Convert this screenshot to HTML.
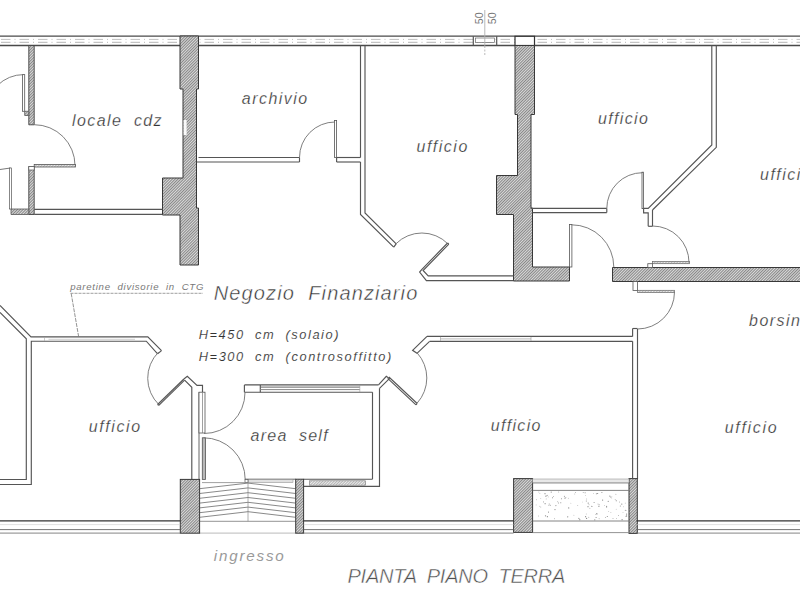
<!DOCTYPE html>
<html><head><meta charset="utf-8">
<style>
html,body{margin:0;padding:0;background:#fff;}
body{width:800px;height:600px;overflow:hidden;}
svg{display:block;}
text{font-family:"Liberation Sans",sans-serif;font-style:italic;}
</style></head>
<body>
<svg width="800" height="600" viewBox="0 0 800 600">
<defs>
<pattern id="h" patternUnits="userSpaceOnUse" width="2" height="2" patternTransform="rotate(45)">
<rect width="2" height="2" fill="#dadada"/>
<rect width="0.9" height="2" fill="#7e7e7e"/>
</pattern>
<pattern id="hl" patternUnits="userSpaceOnUse" width="2" height="2" patternTransform="rotate(45)">
<rect width="2" height="2" fill="#ececec"/>
<rect width="0.8" height="2" fill="#a8a8a8"/>
</pattern>
<pattern id="gr" patternUnits="userSpaceOnUse" width="24" height="24"><rect width="24" height="24" fill="#f8f8f8"/><circle cx="5.7" cy="13.1" r="0.44" fill="#999"/><circle cx="14.5" cy="15.0" r="0.37" fill="#999"/><circle cx="0.3" cy="20.1" r="0.41" fill="#999"/><circle cx="5.6" cy="23.9" r="0.47" fill="#999"/><circle cx="20.1" cy="11.4" r="0.51" fill="#999"/><circle cx="3.6" cy="15.2" r="0.57" fill="#999"/><circle cx="12.6" cy="17.8" r="0.52" fill="#999"/><circle cx="1.5" cy="18.2" r="0.50" fill="#999"/><circle cx="7.2" cy="0.7" r="0.57" fill="#999"/><circle cx="11.3" cy="17.3" r="0.57" fill="#999"/><circle cx="17.1" cy="22.1" r="0.45" fill="#999"/><circle cx="19.2" cy="10.7" r="0.58" fill="#999"/><circle cx="21.1" cy="2.3" r="0.38" fill="#999"/><circle cx="5.2" cy="23.2" r="0.46" fill="#999"/><circle cx="15.0" cy="7.2" r="0.48" fill="#999"/><circle cx="9.3" cy="8.4" r="0.50" fill="#999"/><circle cx="14.0" cy="21.7" r="0.52" fill="#999"/><circle cx="22.3" cy="20.6" r="0.60" fill="#999"/><circle cx="16.1" cy="3.9" r="0.57" fill="#999"/><circle cx="23.2" cy="21.7" r="0.49" fill="#999"/><circle cx="17.1" cy="5.1" r="0.56" fill="#999"/><circle cx="13.8" cy="6.8" r="0.37" fill="#999"/><circle cx="20.5" cy="23.8" r="0.37" fill="#999"/><circle cx="19.2" cy="9.9" r="0.39" fill="#999"/><circle cx="7.1" cy="18.5" r="0.57" fill="#999"/><circle cx="1.1" cy="14.7" r="0.36" fill="#999"/><circle cx="17.2" cy="7.9" r="0.57" fill="#999"/><circle cx="23.5" cy="12.1" r="0.60" fill="#999"/><circle cx="7.4" cy="1.8" r="0.50" fill="#999"/><circle cx="0.8" cy="4.7" r="0.45" fill="#999"/></pattern>
</defs>
<rect width="800" height="600" fill="#fff"/>
<line x1="0" y1="39.4" x2="800" y2="39.4" stroke="#c0c0c0" stroke-width="1.0" stroke-dasharray="9.5,4,1,4" stroke-dashoffset="-1"/>
<line x1="0" y1="42.3" x2="800" y2="42.3" stroke="#b4b4b4" stroke-width="1.0" stroke-dasharray="9.5,4,1,4" stroke-dashoffset="-1"/>
<line x1="0" y1="36.2" x2="800" y2="36.2" stroke="#4a4a4a" stroke-width="1.3" />
<line x1="0" y1="45.5" x2="800" y2="45.5" stroke="#4a4a4a" stroke-width="1.3" />
<line x1="473.3" y1="36.3" x2="473.3" y2="45.5" stroke="#555" stroke-width="1.2" />
<line x1="496.7" y1="36.3" x2="496.7" y2="45.5" stroke="#555" stroke-width="1.2" />
<rect x="475.5" y="38" width="19.0" height="4.5" fill="#fff" stroke="#666" stroke-width="0.7"/>
<rect x="515" y="36.3" width="19.5" height="9.200000000000003" fill="#fff" stroke="#333" stroke-width="1.2"/>
<line x1="484.8" y1="10" x2="484.8" y2="46" stroke="#b0b0b0" stroke-width="0.9" />
<line x1="484.8" y1="46" x2="484.8" y2="55" stroke="#aaa" stroke-width="0.8" stroke-dasharray="2,1.5"/>
<polygon points="180,36 198.5,36 198.5,89 196.5,89 196.5,208 198.5,208 198.5,265 180,265 180,215 162.5,215 162.5,178 183,178 183,89 180,89" stroke="#383838" stroke-width="1.0" fill="url(#h)" stroke-linejoin="miter" />
<polygon points="515,45.5 534.5,45.5 534.5,114.5 531,114.5 531,208 532.5,208 532.5,267 569.5,267 569.5,281 513.5,281 513.5,214.5 496.5,214.5 496.5,175.5 517.5,175.5 517.5,114.5 515,114.5" stroke="#383838" stroke-width="1.0" fill="url(#h)" stroke-linejoin="miter" />
<polygon points="612.5,267.5 801,267.5 801,281.5 612.5,281.5" stroke="#383838" stroke-width="1.0" fill="url(#h)" stroke-linejoin="miter" />
<rect x="183.6" y="120" width="3.0" height="15" fill="#fafafa" stroke="none" stroke-width="0"/>
<polygon points="28.8,45.5 34.2,45.5 34.2,124.8 28.8,124.8" stroke="#444" stroke-width="0.9" fill="url(#h)" stroke-linejoin="miter" />
<polygon points="24.7,111.3 28.8,111.3 28.8,115.5 24.7,115.5" stroke="#555" stroke-width="0.8" fill="url(#h)" stroke-linejoin="miter" />
<rect x="22.4" y="74.6" width="2.3000000000000007" height="36.7" fill="#fff" stroke="#555" stroke-width="0.8"/>
<path d="M-13.20,111.30 A36.7,36.7 0 0 1 23.50,74.60" stroke="#707070" stroke-width="0.9" fill="none"/>
<path d="M34.20,124.70 A40.8,40.8 0 0 1 75.00,165.50" stroke="#707070" stroke-width="0.9" fill="none"/>
<rect x="34.2" y="164.5" width="41.3" height="2.5" fill="url(#hl)" stroke="#555" stroke-width="0.8"/>
<polygon points="28.8,166.5 34.2,166.5 34.2,214.5 28.8,214.5" stroke="#444" stroke-width="0.9" fill="url(#h)" stroke-linejoin="miter" />
<rect x="28.8" y="166.5" width="5.400000000000002" height="3.5" fill="#fff" stroke="#555" stroke-width="0.7"/>
<line x1="0" y1="169.5" x2="10.5" y2="168" stroke="#555" stroke-width="0.8" />
<rect x="9.5" y="168" width="2.0" height="41" fill="#fff" stroke="#555" stroke-width="0.7"/>
<polygon points="11,209 28.8,209 28.8,214.5 11,214.5" stroke="#555" stroke-width="0.8" fill="url(#h)" stroke-linejoin="miter" />
<line x1="34.2" y1="209.4" x2="162.5" y2="209.4" stroke="#555" stroke-width="1.15" />
<line x1="34.2" y1="214.4" x2="162.5" y2="214.4" stroke="#555" stroke-width="1.15" />
<line x1="198.5" y1="157.5" x2="299.5" y2="157.5" stroke="#555" stroke-width="1.15" />
<line x1="196.5" y1="162" x2="299.5" y2="162" stroke="#555" stroke-width="1.15" />
<line x1="299.5" y1="157.5" x2="299.5" y2="162" stroke="#555" stroke-width="1.15" />
<path d="M299.50,157.50 A35.5,35.5 0 0 1 335.00,122.00" stroke="#707070" stroke-width="0.9" fill="none"/>
<rect x="334.5" y="120.5" width="2.1000000000000227" height="37.0" fill="#fff" stroke="#555" stroke-width="0.8"/>
<line x1="336.6" y1="157.5" x2="360.5" y2="157.5" stroke="#555" stroke-width="1.15" />
<line x1="336.6" y1="157.5" x2="336.6" y2="162" stroke="#555" stroke-width="1.15" />
<line x1="336.6" y1="162" x2="360.5" y2="162" stroke="#555" stroke-width="1.15" />
<line x1="360.5" y1="45.5" x2="360.5" y2="157.5" stroke="#555" stroke-width="1.15" />
<polyline points="360.5,162 360.5,214.5 393.7,247.2" stroke="#555" stroke-width="1.15" fill="none" stroke-linejoin="miter" />
<polyline points="365,45.5 365,213 396.2,243.8" stroke="#555" stroke-width="1.15" fill="none" stroke-linejoin="miter" />
<line x1="393.7" y1="247.2" x2="396.2" y2="243.8" stroke="#555" stroke-width="1.15" />
<path d="M396.02,243.72 A36.6,36.6 0 0 1 447.78,243.72" stroke="#707070" stroke-width="0.9" fill="none"/>
<polyline points="447.6,243.0 421.9,269.3 419.6,272.1 426.4,280.6 513.5,280.6" stroke="#555" stroke-width="1.15" fill="none" stroke-linejoin="miter" />
<polyline points="448.8,244.2 423.1,270.5 428.2,275.8 513.5,275.8" stroke="#555" stroke-width="1.15" fill="none" stroke-linejoin="miter" />
<line x1="447.6" y1="243.0" x2="448.8" y2="244.2" stroke="#555" stroke-width="1.15" />
<line x1="531" y1="208.4" x2="606.8" y2="208.4" stroke="#555" stroke-width="1.15" />
<line x1="532.5" y1="212.6" x2="606.8" y2="212.6" stroke="#555" stroke-width="1.15" />
<line x1="606.8" y1="208.4" x2="606.8" y2="212.6" stroke="#555" stroke-width="1.15" />
<path d="M606.80,208.40 A35.7,35.7 0 0 1 642.50,172.70" stroke="#707070" stroke-width="0.9" fill="none"/>
<rect x="642" y="172.2" width="1.6000000000000227" height="36.400000000000006" fill="#fff" stroke="#555" stroke-width="0.8"/>
<polyline points="711.8,45.5 711.8,145 648.2,208.3 643.6,208.3" stroke="#555" stroke-width="1.15" fill="none" stroke-linejoin="miter" />
<polyline points="716.3,45.5 716.3,147.3 652.5,210" stroke="#555" stroke-width="1.15" fill="none" stroke-linejoin="miter" />
<polyline points="643.6,208.6 643.6,212.8 648.2,212.8 648.2,226.3" stroke="#555" stroke-width="1.15" fill="none" stroke-linejoin="miter" />
<polyline points="652.5,210 652.5,226.3" stroke="#555" stroke-width="1.15" fill="none" stroke-linejoin="miter" />
<line x1="648.2" y1="226.3" x2="652.5" y2="226.3" stroke="#555" stroke-width="1.15" />
<path d="M652.50,226.00 A36.5,36.5 0 0 1 689.00,262.50" stroke="#707070" stroke-width="0.9" fill="none"/>
<rect x="652.5" y="261.4" width="36.89999999999998" height="2.3000000000000114" fill="url(#hl)" stroke="#666" stroke-width="0.7"/>
<rect x="647.8" y="263.7" width="4.7000000000000455" height="3.8000000000000114" fill="#fff" stroke="#555" stroke-width="0.8"/>
<rect x="569.4" y="224.5" width="2.5" height="42.5" fill="#fff" stroke="#555" stroke-width="0.8"/>
<path d="M571.60,224.80 A42.2,42.2 0 0 1 613.80,267.00" stroke="#707070" stroke-width="0.9" fill="none"/>
<rect x="633" y="281.5" width="4.5" height="9.0" fill="#fff" stroke="#555" stroke-width="0.8"/>
<rect x="637.5" y="290.3" width="37.0" height="2.1999999999999886" fill="url(#hl)" stroke="#666" stroke-width="0.7"/>
<path d="M674.50,292.00 A37,37 0 0 1 637.50,329.00" stroke="#707070" stroke-width="0.9" fill="none"/>
<polyline points="637.5,329 637.5,479" stroke="#555" stroke-width="1.15" fill="none" stroke-linejoin="miter" />
<polyline points="632.6,341.3 632.6,479" stroke="#555" stroke-width="1.15" fill="none" stroke-linejoin="miter" />
<line x1="632.6" y1="328.5" x2="637.5" y2="328.5" stroke="#555" stroke-width="1.15" />
<line x1="632.6" y1="328.5" x2="632.6" y2="336.4" stroke="#555" stroke-width="1.15" />
<line x1="427" y1="336.4" x2="632.6" y2="336.4" stroke="#555" stroke-width="1.15" />
<line x1="429.6" y1="341.3" x2="632.6" y2="341.3" stroke="#555" stroke-width="1.15" />
<line x1="440.5" y1="338.9" x2="531" y2="338.9" stroke="#aaa" stroke-width="0.8" />
<line x1="440.5" y1="336.8" x2="440.5" y2="341" stroke="#999" stroke-width="0.6" />
<line x1="531" y1="336.8" x2="531" y2="341" stroke="#999" stroke-width="0.6" />
<polyline points="427,336.4 412.6,350.3 417,353.3 429.6,341.3" stroke="#555" stroke-width="1.15" fill="none" stroke-linejoin="miter" />
<path d="M417.17,352.91 A37.5,37.5 0 0 1 417.17,403.09" stroke="#707070" stroke-width="0.9" fill="none"/>
<polyline points="388.9,377.0 417.2,403.5" stroke="#555" stroke-width="1.1" fill="none" stroke-linejoin="miter" />
<polyline points="387.7,378.3 416.0,404.8" stroke="#555" stroke-width="1.1" fill="none" stroke-linejoin="miter" />
<line x1="417.2" y1="403.5" x2="416.0" y2="404.8" stroke="#555" stroke-width="1.1" />
<polyline points="0,305.5 31,336.8 147.8,336.8 161.5,350.6" stroke="#555" stroke-width="1.15" fill="none" stroke-linejoin="miter" />
<polyline points="0,312.5 26.3,338.8 26.3,479.5 0,479.5" stroke="#555" stroke-width="1.15" fill="none" stroke-linejoin="miter" />
<polyline points="157.6,353.8 146.3,341.2 31.3,341.2 31.3,484.5 0,484.5" stroke="#555" stroke-width="1.15" fill="none" stroke-linejoin="miter" />
<line x1="161.5" y1="350.6" x2="157.6" y2="353.8" stroke="#555" stroke-width="1.15" />
<line x1="48.5" y1="339.3" x2="135" y2="339.3" stroke="#bbb" stroke-width="0.7" />
<line x1="44.5" y1="337.5" x2="44.5" y2="341" stroke="#aaa" stroke-width="0.6" />
<path d="M158.94,404.67 A36.8,36.8 0 0 1 158.48,352.18" stroke="#707070" stroke-width="0.9" fill="none"/>
<polyline points="157.6,404.5 183.9,379" stroke="#555" stroke-width="1.15" fill="none" stroke-linejoin="miter" />
<polyline points="158.8,405.4 184.6,380.1" stroke="#555" stroke-width="1.15" fill="none" stroke-linejoin="miter" />
<line x1="157.6" y1="404.5" x2="158.8" y2="405.4" stroke="#555" stroke-width="1.15" />
<polyline points="183.9,379 187.3,376.3 197,385.4 202.5,385.4 202.5,392.2" stroke="#555" stroke-width="1.15" fill="none" stroke-linejoin="miter" />
<polyline points="184.6,380.1 191.8,387.3 191.8,479.4" stroke="#555" stroke-width="1.15" fill="none" stroke-linejoin="miter" />
<line x1="199" y1="392.2" x2="199" y2="479.4" stroke="#555" stroke-width="0.9" />
<rect x="199" y="392.2" width="6" height="40.80000000000001" fill="#fff" stroke="#555" stroke-width="0.8"/>
<line x1="202.5" y1="392.2" x2="202.5" y2="433" stroke="#777" stroke-width="0.7" />
<rect x="202.3" y="437.8" width="3.1999999999999886" height="41.599999999999966" fill="#b8b8b8" stroke="#555" stroke-width="0.8"/>
<path d="M245.00,392.50 A41,41 0 0 1 204.00,433.50" stroke="#707070" stroke-width="0.9" fill="none"/>
<path d="M203.50,437.80 A41.7,41.7 0 0 1 245.20,479.50" stroke="#707070" stroke-width="0.9" fill="none"/>
<line x1="244.4" y1="384.9" x2="378.5" y2="384.9" stroke="#555" stroke-width="1.15" />
<line x1="244.4" y1="392.2" x2="372.5" y2="392.2" stroke="#555" stroke-width="1.15" />
<line x1="244.4" y1="384.9" x2="244.4" y2="392.2" stroke="#555" stroke-width="1.15" />
<line x1="260.3" y1="384.9" x2="260.3" y2="392.2" stroke="#555" stroke-width="1.15" />
<line x1="260.3" y1="387.1" x2="359.8" y2="387.1" stroke="#666" stroke-width="1.0" />
<line x1="260.3" y1="389.6" x2="359.8" y2="389.6" stroke="#888" stroke-width="1.0" />
<line x1="359.8" y1="385" x2="359.8" y2="392.2" stroke="#999" stroke-width="0.6" />
<line x1="372.5" y1="392.2" x2="372.5" y2="479.2" stroke="#555" stroke-width="1.15" />
<polyline points="379.5,388.3 379.5,486.3 303.7,486.3" stroke="#555" stroke-width="1.15" fill="none" stroke-linejoin="miter" />
<line x1="303.7" y1="479.2" x2="372.5" y2="479.2" stroke="#555" stroke-width="1.15" />
<rect x="309.5" y="480.8" width="56.10000000000002" height="4.399999999999977" fill="url(#hl)" stroke="#777" stroke-width="0.6"/>
<polyline points="378.5,384.9 386.3,376.3 389.4,378.6 379.5,388.3" stroke="#555" stroke-width="1.15" fill="none" stroke-linejoin="miter" />
<line x1="245" y1="479.2" x2="295.7" y2="479.2" stroke="#555" stroke-width="0.9" />
<rect x="248" y="479.6" width="45" height="3.0" fill="#e0e0e0" stroke="#888" stroke-width="0.5"/>
<rect x="245" y="479.4" width="3" height="3.2000000000000455" fill="#fff" stroke="#555" stroke-width="0.7"/>
<line x1="202" y1="482.6" x2="245" y2="482.6" stroke="#888" stroke-width="0.8" />
<line x1="248" y1="482.6" x2="248" y2="521.3" stroke="#999" stroke-width="0.8" />
<line x1="199.6" y1="488.7" x2="248" y2="483.09999999999997" stroke="#7c7c7c" stroke-width="0.9" />
<line x1="248" y1="483.09999999999997" x2="295.7" y2="488.7" stroke="#7c7c7c" stroke-width="0.9" />
<line x1="199.6" y1="493.5" x2="248" y2="487.9" stroke="#7c7c7c" stroke-width="0.9" />
<line x1="248" y1="487.9" x2="295.7" y2="493.5" stroke="#7c7c7c" stroke-width="0.9" />
<line x1="199.6" y1="498.3" x2="248" y2="492.7" stroke="#7c7c7c" stroke-width="0.9" />
<line x1="248" y1="492.7" x2="295.7" y2="498.3" stroke="#7c7c7c" stroke-width="0.9" />
<line x1="199.6" y1="503.1" x2="248" y2="497.5" stroke="#7c7c7c" stroke-width="0.9" />
<line x1="248" y1="497.5" x2="295.7" y2="503.1" stroke="#7c7c7c" stroke-width="0.9" />
<line x1="199.6" y1="507.9" x2="248" y2="502.29999999999995" stroke="#7c7c7c" stroke-width="0.9" />
<line x1="248" y1="502.29999999999995" x2="295.7" y2="507.9" stroke="#7c7c7c" stroke-width="0.9" />
<line x1="199.6" y1="512.7" x2="248" y2="507.1" stroke="#7c7c7c" stroke-width="0.9" />
<line x1="248" y1="507.1" x2="295.7" y2="512.7" stroke="#7c7c7c" stroke-width="0.9" />
<line x1="199.6" y1="517.3" x2="248" y2="511.69999999999993" stroke="#7c7c7c" stroke-width="0.9" />
<line x1="248" y1="511.69999999999993" x2="295.7" y2="517.3" stroke="#7c7c7c" stroke-width="0.9" />
<line x1="199.6" y1="521.3" x2="295.7" y2="521.3" stroke="#888" stroke-width="0.9" />
<line x1="199.6" y1="533.1" x2="295.7" y2="533.1" stroke="#aaa" stroke-width="0.8" />
<rect x="180.3" y="479.4" width="19.299999999999983" height="53.80000000000007" fill="url(#h)" stroke="#383838" stroke-width="1.0"/>
<rect x="295.7" y="479.2" width="7.900000000000034" height="54.00000000000006" fill="url(#h)" stroke="#383838" stroke-width="1.0"/>
<rect x="513.6" y="478.6" width="19.0" height="53.799999999999955" fill="url(#h)" stroke="#383838" stroke-width="1.0"/>
<rect x="629" y="478.6" width="8.299999999999955" height="54.799999999999955" fill="url(#h)" stroke="#383838" stroke-width="1.0"/>
<line x1="0" y1="520.9" x2="180.3" y2="520.9" stroke="#333" stroke-width="1.4" />
<line x1="0" y1="524.6" x2="180.3" y2="524.6" stroke="#ccc" stroke-width="0.6" />
<line x1="0" y1="529.6" x2="180.3" y2="529.6" stroke="#666" stroke-width="0.9" />
<line x1="0" y1="533.1" x2="180.3" y2="533.1" stroke="#777" stroke-width="0.9" />
<line x1="303.6" y1="520.9" x2="513.6" y2="520.9" stroke="#333" stroke-width="1.4" />
<line x1="303.6" y1="524.6" x2="513.6" y2="524.6" stroke="#ccc" stroke-width="0.6" />
<line x1="303.6" y1="529.6" x2="513.6" y2="529.6" stroke="#666" stroke-width="0.9" />
<line x1="303.6" y1="533.1" x2="513.6" y2="533.1" stroke="#777" stroke-width="0.9" />
<line x1="636.6" y1="520.9" x2="800" y2="520.9" stroke="#333" stroke-width="1.4" />
<line x1="636.6" y1="524.6" x2="800" y2="524.6" stroke="#ccc" stroke-width="0.6" />
<line x1="636.6" y1="529.6" x2="800" y2="529.6" stroke="#666" stroke-width="0.9" />
<line x1="636.6" y1="533.1" x2="800" y2="533.1" stroke="#777" stroke-width="0.9" />
<line x1="532.6" y1="483" x2="629" y2="483" stroke="#777" stroke-width="0.8" />
<rect x="532.6" y="479" width="96.39999999999998" height="3.6000000000000227" fill="#e8e8e8" stroke="#888" stroke-width="0.5"/>
<line x1="532.6" y1="490.4" x2="629" y2="490.4" stroke="#777" stroke-width="0.9" />
<g fill="#8a8a8a"><circle cx="564.4" cy="496.2" r="0.55"/><circle cx="540.8" cy="507.0" r="0.46"/><circle cx="539.5" cy="506.2" r="0.36"/><circle cx="574.8" cy="494.0" r="0.38"/><circle cx="573.9" cy="515.2" r="0.39"/><circle cx="555.0" cy="509.6" r="0.63"/><circle cx="588.2" cy="503.1" r="0.64"/><circle cx="538.4" cy="516.0" r="0.44"/><circle cx="547.6" cy="495.3" r="0.44"/><circle cx="610.7" cy="497.1" r="0.52"/><circle cx="594.1" cy="502.4" r="0.51"/><circle cx="539.9" cy="493.7" r="0.41"/><circle cx="598.0" cy="504.0" r="0.44"/><circle cx="589.0" cy="504.7" r="0.44"/><circle cx="608.7" cy="511.6" r="0.42"/><circle cx="588.0" cy="506.7" r="0.61"/><circle cx="602.6" cy="500.1" r="0.64"/><circle cx="545.1" cy="503.7" r="0.58"/><circle cx="548.3" cy="505.7" r="0.36"/><circle cx="596.8" cy="513.4" r="0.52"/><circle cx="616.3" cy="500.8" r="0.56"/><circle cx="589.9" cy="508.2" r="0.49"/><circle cx="613.0" cy="518.5" r="0.49"/><circle cx="596.4" cy="493.7" r="0.56"/><circle cx="594.8" cy="519.8" r="0.60"/><circle cx="560.8" cy="502.8" r="0.55"/><circle cx="536.1" cy="504.9" r="0.40"/><circle cx="545.0" cy="493.7" r="0.58"/><circle cx="546.2" cy="498.9" r="0.47"/><circle cx="615.9" cy="494.3" r="0.48"/><circle cx="585.6" cy="516.7" r="0.60"/><circle cx="615.2" cy="499.8" r="0.47"/><circle cx="567.7" cy="516.8" r="0.64"/><circle cx="548.2" cy="496.9" r="0.42"/><circle cx="555.9" cy="505.6" r="0.53"/><circle cx="558.7" cy="492.1" r="0.48"/><circle cx="568.7" cy="507.9" r="0.64"/><circle cx="598.9" cy="506.4" r="0.54"/><circle cx="597.6" cy="493.5" r="0.62"/><circle cx="607.3" cy="516.5" r="0.59"/><circle cx="570.9" cy="503.2" r="0.38"/><circle cx="593.6" cy="493.7" r="0.37"/><circle cx="553.6" cy="496.5" r="0.45"/><circle cx="538.9" cy="492.0" r="0.40"/><circle cx="543.5" cy="502.2" r="0.36"/><circle cx="616.2" cy="509.2" r="0.39"/><circle cx="557.7" cy="501.7" r="0.46"/><circle cx="545.5" cy="515.8" r="0.65"/><circle cx="577.8" cy="505.5" r="0.38"/><circle cx="543.6" cy="501.6" r="0.43"/><circle cx="611.9" cy="496.5" r="0.36"/><circle cx="623.4" cy="506.8" r="0.39"/><circle cx="585.1" cy="492.8" r="0.51"/><circle cx="626.0" cy="516.2" r="0.56"/><circle cx="558.5" cy="502.3" r="0.40"/><circle cx="606.6" cy="506.9" r="0.58"/><circle cx="565.0" cy="498.2" r="0.59"/><circle cx="626.6" cy="515.9" r="0.59"/><circle cx="610.9" cy="512.7" r="0.42"/><circle cx="582.7" cy="502.0" r="0.36"/><circle cx="536.6" cy="499.8" r="0.43"/><circle cx="599.1" cy="518.8" r="0.48"/><circle cx="622.1" cy="519.7" r="0.64"/><circle cx="568.3" cy="498.2" r="0.42"/><circle cx="552.5" cy="497.7" r="0.54"/><circle cx="618.6" cy="515.5" r="0.49"/><circle cx="595.4" cy="514.4" r="0.38"/><circle cx="596.1" cy="517.5" r="0.58"/><circle cx="604.5" cy="505.4" r="0.40"/><circle cx="608.2" cy="501.3" r="0.59"/><circle cx="625.3" cy="503.1" r="0.47"/><circle cx="623.0" cy="512.3" r="0.40"/><circle cx="545.9" cy="496.2" r="0.62"/><circle cx="609.8" cy="496.1" r="0.60"/><circle cx="626.1" cy="510.4" r="0.46"/><circle cx="585.6" cy="495.7" r="0.35"/><circle cx="625.3" cy="510.2" r="0.51"/><circle cx="621.8" cy="504.1" r="0.61"/><circle cx="611.7" cy="497.9" r="0.43"/><circle cx="561.5" cy="498.7" r="0.53"/><circle cx="558.4" cy="503.7" r="0.39"/><circle cx="619.5" cy="501.9" r="0.49"/><circle cx="588.8" cy="517.3" r="0.48"/><circle cx="620.3" cy="506.0" r="0.51"/><circle cx="583.2" cy="492.5" r="0.48"/><circle cx="551.2" cy="492.1" r="0.59"/><circle cx="550.2" cy="505.3" r="0.57"/><circle cx="586.3" cy="501.1" r="0.51"/><circle cx="586.2" cy="514.0" r="0.38"/><circle cx="586.7" cy="499.0" r="0.43"/><circle cx="606.6" cy="506.2" r="0.52"/><circle cx="605.4" cy="517.5" r="0.48"/><circle cx="591.6" cy="506.2" r="0.50"/><circle cx="599.1" cy="504.7" r="0.51"/><circle cx="578.9" cy="518.4" r="0.56"/><circle cx="616.4" cy="518.4" r="0.43"/><circle cx="586.6" cy="518.4" r="0.60"/><circle cx="546.9" cy="495.4" r="0.48"/><circle cx="540.8" cy="498.7" r="0.37"/><circle cx="596.9" cy="514.0" r="0.62"/><circle cx="548.5" cy="512.1" r="0.55"/><circle cx="547.4" cy="516.7" r="0.64"/><circle cx="554.6" cy="518.7" r="0.47"/><circle cx="579.8" cy="519.7" r="0.60"/><circle cx="549.2" cy="504.1" r="0.50"/><circle cx="565.9" cy="497.5" r="0.45"/><circle cx="601.9" cy="492.5" r="0.52"/><circle cx="575.4" cy="492.5" r="0.45"/><circle cx="592.6" cy="506.3" r="0.37"/><circle cx="626.6" cy="514.1" r="0.64"/></g>
<line x1="532.6" y1="521" x2="629" y2="521" stroke="#777" stroke-width="0.9" />
<line x1="532.6" y1="532.6" x2="629" y2="532.6" stroke="#888" stroke-width="0.9" />
<polyline points="632.6,479 632.6,478.6" stroke="#555" stroke-width="1.15" fill="none" stroke-linejoin="miter" />
<text stroke="#fff" stroke-width="0.25" x="72.0" y="126" font-size="16" fill="#333" letter-spacing="1.4" xml:space="preserve" >locale  cdz</text>
<text stroke="#fff" stroke-width="0.25" x="241.8" y="103.6" font-size="16" fill="#333" letter-spacing="1.457" xml:space="preserve" >archivio</text>
<text stroke="#fff" stroke-width="0.25" x="416.5" y="152" font-size="16" fill="#333" letter-spacing="1.5" xml:space="preserve" >ufficio</text>
<text stroke="#fff" stroke-width="0.25" x="597.9" y="123.8" font-size="16" fill="#333" letter-spacing="1.367" xml:space="preserve" >ufficio</text>
<text stroke="#fff" stroke-width="0.25" x="760.0" y="179.5" font-size="16" fill="#333" letter-spacing="1.487" xml:space="preserve" >ufficio</text>
<text stroke="#fff" stroke-width="0.25" x="749.0" y="325.5" font-size="16" fill="#333" letter-spacing="1.487" xml:space="preserve" >borsino</text>
<text stroke="#fff" stroke-width="0.25" x="88.75" y="431.7" font-size="16" fill="#333" letter-spacing="1.6" xml:space="preserve" >ufficio</text>
<text stroke="#fff" stroke-width="0.25" x="250.6" y="440.6" font-size="16" fill="#333" letter-spacing="1.244" xml:space="preserve" >area  self</text>
<text stroke="#fff" stroke-width="0.25" x="490.8" y="431" font-size="16" fill="#333" letter-spacing="1.3" xml:space="preserve" >ufficio</text>
<text stroke="#fff" stroke-width="0.25" x="724.75" y="432.5" font-size="16" fill="#333" letter-spacing="1.667" xml:space="preserve" >ufficio</text>
<text stroke="#fff" stroke-width="0.45" x="213.75" y="299.75" font-size="20" fill="#333" letter-spacing="1.116" xml:space="preserve" >Negozio  Finanziario</text>
<text stroke="#fff" stroke-width="0.12" x="198.75" y="339.4" font-size="12.8" fill="#333" letter-spacing="1.578" xml:space="preserve" >H=450  cm  (solaio)</text>
<text stroke="#fff" stroke-width="0.12" x="198.75" y="361.25" font-size="12.8" fill="#333" letter-spacing="1.592" xml:space="preserve" >H=300  cm  (controsoffitto)</text>
<text x="213.8" y="561.4" font-size="15.2" fill="#9a9a9a" letter-spacing="1.8" xml:space="preserve" >ingresso</text>
<text stroke="#fff" stroke-width="0.45" x="347.5" y="583" font-size="20" fill="#505050" letter-spacing="-0.232" xml:space="preserve" >PIANTA  PIANO  TERRA</text>
<text x="70.25" y="290.2" font-size="9.6" fill="#777" letter-spacing="0.726" xml:space="preserve" >paretine  divisorie  in  CTG</text>
<line x1="70.5" y1="293.3" x2="203" y2="293.3" stroke="#888" stroke-width="0.8" stroke-dasharray="3,1"/>
<line x1="71.2" y1="293.5" x2="78.7" y2="337" stroke="#777" stroke-width="0.8" stroke-dasharray="4,1"/>
<text transform="translate(482.7,24.2) rotate(-90)" font-size="10.7" fill="#777" style="font-style:normal">50</text>
<text transform="translate(495.6,24.2) rotate(-90)" font-size="10.7" fill="#777" style="font-style:normal">50</text>
</svg>
</body></html>
